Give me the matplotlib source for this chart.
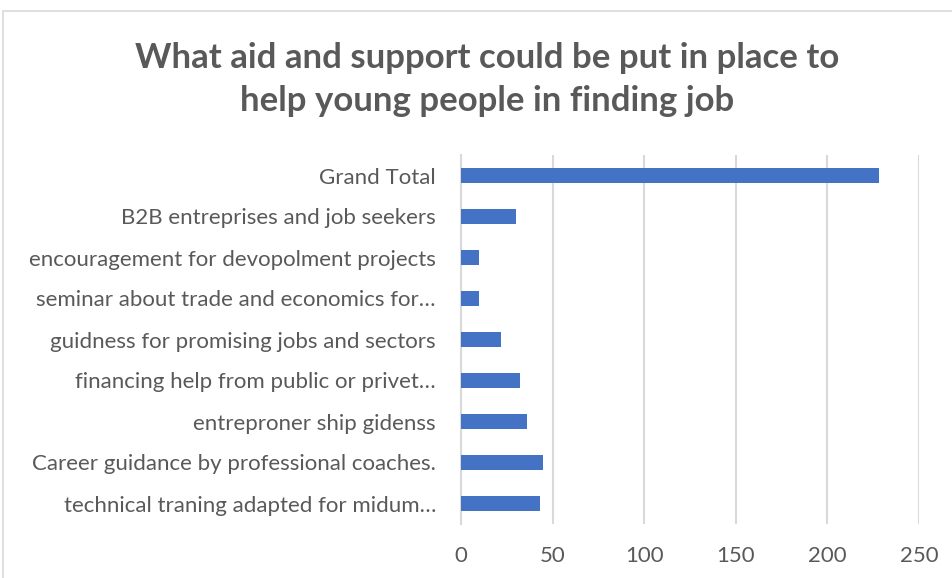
import matplotlib.pyplot as plt
from matplotlib.patches import Rectangle

categories = [
    "technical traning adapted for midum…",
    "Career guidance by professional coaches.",
    "entreproner ship gidenss",
    "financing help from public or privet…",
    "guidness for promising jobs and sectors",
    "seminar about trade and economics for…",
    "encouragement for devopolment projects",
    "B2B entreprises and job seekers",
    "Grand Total",
]
counts = [43, 45, 36, 32, 22, 10, 10, 30, 228]
xticks = [0, 50, 100, 150, 200, 250]

plt.rcParams['font.family'] = ['Lato', 'DejaVu Sans']
grey = '#595959'

fig = plt.figure(figsize=(9.52, 5.78), dpi=100)
fig.patches.append(Rectangle((3 / 952, -0.1), 1.2, 1 - 11 / 578 + 0.1,
                             transform=fig.transFigure, fill=False,
                             edgecolor='#d9d9d9', linewidth=1.2))

ax = fig.add_axes([461 / 952, 1 - 524 / 578, 458 / 952, 369 / 578])
ax.barh(range(len(categories)), counts, height=0.35, color='#4472c4', zorder=3)
ax.set_ylim(-0.5, len(categories) - 0.5)
ax.set_xlim(0, 250)
ax.set_xticks(xticks)
ax.set_yticks(range(len(categories)))
ax.set_yticklabels(categories)
ax.grid(axis='x', color='#d9d9d9', linewidth=1.5, zorder=0)
for s in ['top', 'right', 'bottom']:
    ax.spines[s].set_visible(False)
ax.spines['left'].set_color('#d9d9d9')
ax.spines['left'].set_linewidth(1.5)
ax.tick_params(axis='both', length=0, colors=grey, labelsize=16)
ax.tick_params(axis='y', pad=18)
ax.tick_params(axis='x', pad=16)

fig.text(0.512, 0.862, "What aid and support could be put in place to\nhelp young people in finding job",
         ha='center', va='center', fontsize=25, fontweight='bold', color=grey,
         linespacing=1.42)

plt.savefig("out.png", dpi=100)
